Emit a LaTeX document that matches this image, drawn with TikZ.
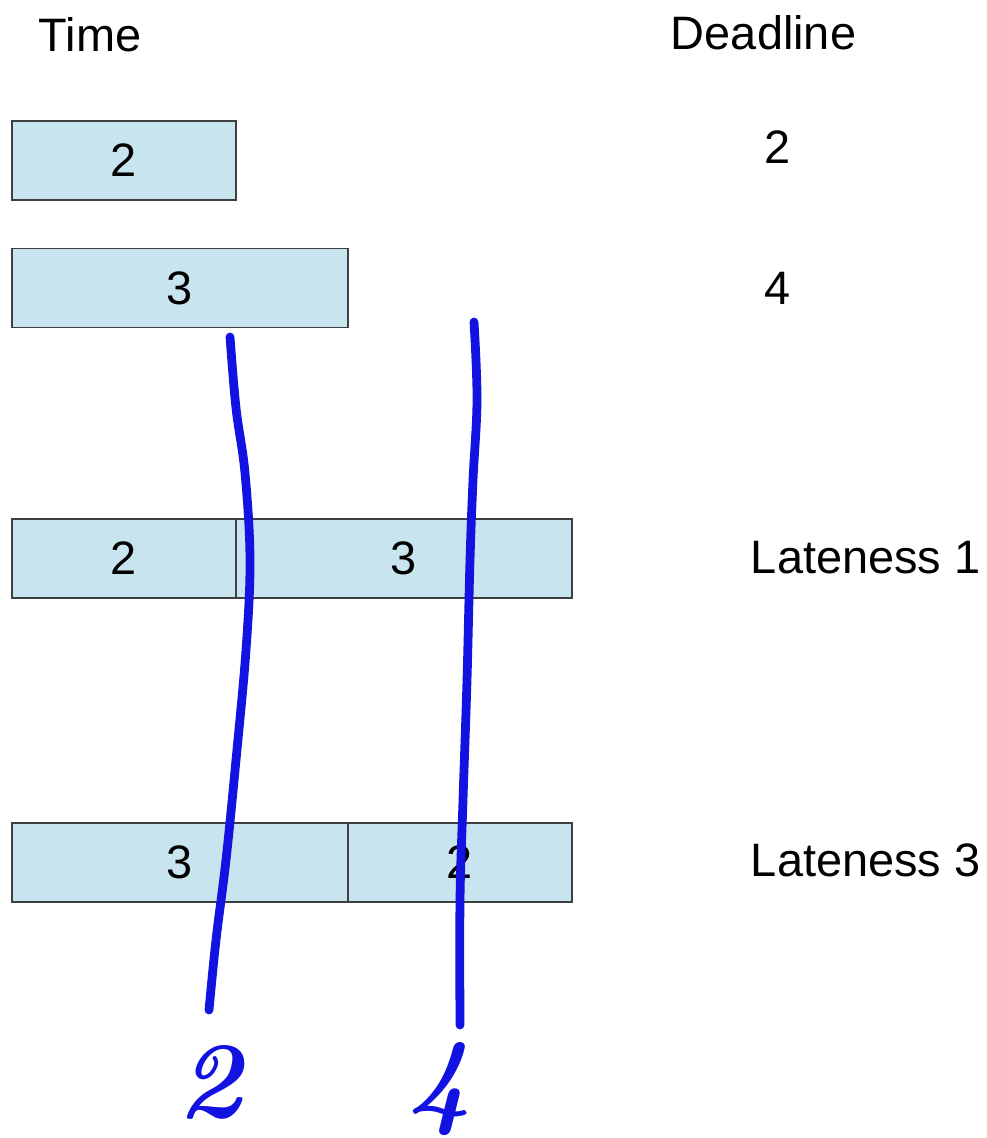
\documentclass[tikz,border=0pt]{standalone}
\usepackage{fontspec}
\setsansfont{Liberation Sans}
\usetikzlibrary{positioning}
\definecolor{job1}{RGB}{200,228,238}
\definecolor{edge1}{RGB}{64,64,64}
\definecolor{pen1}{RGB}{18,18,225}

\begin{document}
\begin{tikzpicture}[line width=1.1pt,
  lbl/.style={inner sep=0pt, font=\sffamily\fontsize{26.7}{32}\selectfont},
  job/.style={lbl, draw=edge1, fill=job1, minimum height=1.58cm, outer sep=0pt},
  ink/.style={draw=pen1, line width=5pt, line cap=round, line join=round},
  hand/.style={text=pen1, inner sep=0pt, font=\fontsize{62}{68}\selectfont\bfseries\itshape}]
  \useasboundingbox (0,0) rectangle (19.72,22.76);
  % headings
  \node[lbl, anchor=west] (time) at (0.76,22.06) {Time};
  \node[lbl, anchor=west] (deadline) at (13.4,22.1) {Deadline};
  % the two jobs and their deadlines
  \node[job, minimum width=4.48cm, anchor=west] (a2) at (0.24,19.55) {2};
  \node[job, minimum width=6.72cm, anchor=west] (a3) at (0.24,17.0) {3};
  \node[lbl] (d2) at (15.56,19.82) {2};
  \node[lbl] (d4) at (15.56,17.0) {4};
  % order 2 then 3
  \node[job, minimum width=4.48cm, anchor=west] (b2) at (0.24,11.59) {2};
  \node[job, minimum width=6.72cm, right=0pt of b2] (b3) {3};
  \node[lbl, anchor=west] (late1) at (15.0,11.6) {Lateness 1};
  % order 3 then 2
  \node[job, minimum width=6.72cm, anchor=west] (c3) at (0.24,5.51) {3};
  \node[job, minimum width=4.48cm, right=0pt of c3] (c2) {2};
  \node[lbl, anchor=west] (late3) at (15.0,5.56) {Lateness 3};
  % pen marks for the deadlines
  \draw[ink] plot[smooth, tension=0.6] coordinates {(4.60,16.02) (4.72,14.60) (4.90,13.30)
    (5.00,11.56) (4.92,9.76) (4.72,7.56) (4.52,5.56) (4.32,3.96) (4.18,2.56)};
  \draw[ink] plot[smooth, tension=0.6] coordinates {(9.48,16.32) (9.54,14.76) (9.46,13.16)
    (9.40,11.56) (9.34,9.16) (9.26,6.76) (9.20,4.76) (9.20,2.26)};
  \node[hand] (h2) at (4.2,1.12) {2};
  \node[hand] (h4) at (8.8,0.98) {4};
\end{tikzpicture}
\end{document}
